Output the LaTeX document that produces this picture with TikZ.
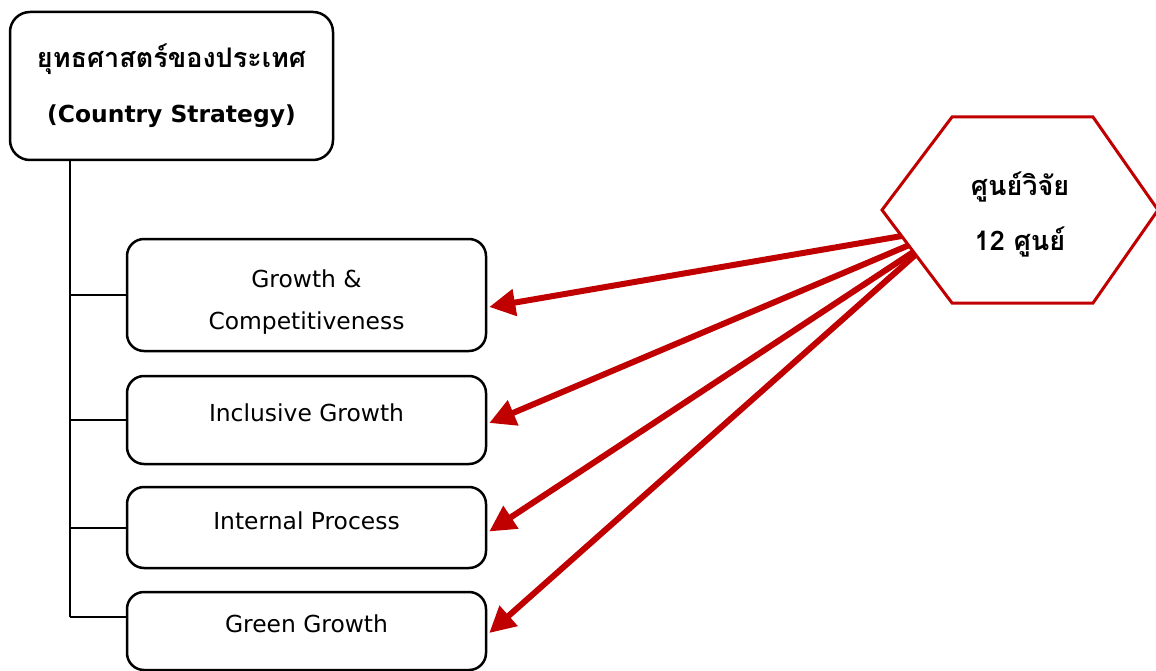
\documentclass[tikz,border=0pt]{standalone}
\usepackage{fontspec}
\setmainfont{DejaVu Sans}
\newfontfamily\thaifont[Script=Thai]{Loma}
\usetikzlibrary{positioning}
\usetikzlibrary{calc}
\usetikzlibrary{arrows.meta}
\definecolor{hexred}{HTML}{C00000}

\begin{document}
\begin{tikzpicture}[x=1pt,y=-1pt,
	cbox/.style={rectangle,rounded corners=20pt,draw=black,line width=2.5pt,minimum width=323pt,minimum height=148pt,align=center,font=\bfseries\fontsize{23.4}{55}\selectfont},
	sbox/.style={rectangle,rounded corners=17pt,draw=black,line width=2.5pt,minimum width=359pt,align=center,font=\fontsize{23.4}{42}\selectfont},
	onebox/.style={sbox,text height=17pt,text depth=14pt},
	stem/.style={draw=black,line width=2pt},
	redarrow/.style={draw=hexred,line width=6pt,-{Triangle[length=26pt,width=26pt]}},
	node distance = 24pt]
		\useasboundingbox (0,0) rectangle (1156,671);
		\node[cbox] (country) at (171.5,86) {{\thaifont\fontsize{27}{55}\selectfont ยุทธศาสตร์ของประเทศ}\\(Country Strategy)};
		\node[sbox,minimum height=112pt] (growth) at (306.5,295) {\rule{0pt}{31pt}Growth \&\\Competitiveness};
		\node[onebox,minimum height=88pt,below = 22.5pt of growth] (inclusive) {Inclusive Growth};
		\node[onebox,minimum height=81pt,below = 20.5pt of inclusive] (internal) {Internal Process};
		\node[onebox,minimum height=78pt,below = 21.5pt of internal] (green) {Green Growth};
		% tree on the left
		\coordinate (trunk) at ($(country.south)+(-101.5,0)$);
		\coordinate (leaf) at ($(green.west)+(0,-14)$);
		\draw[stem] (trunk) -- (trunk |- leaf);
		\draw[stem] (trunk |- growth.west) -- (growth.west);
		\draw[stem] (trunk |- inclusive.west) -- (inclusive.west);
		\draw[stem] (trunk |- internal.west) -- (internal.west);
		\draw[stem] (trunk |- leaf) -- (leaf);
		% research centres
		\coordinate (hl) at (882,210);
		\coordinate (htl) at (952,117);
		\coordinate (htr) at (1093,117);
		\coordinate (hr) at (1158,210);
		\coordinate (hbr) at (1093,303);
		\coordinate (hbl) at (952,303);
		\draw[hexred,line width=3pt] (hl) -- (htl) -- (htr) -- (hr) -- (hbr) -- (hbl) -- cycle;
		\node[font=\thaifont\bfseries\fontsize{27}{55}\selectfont,align=center] (centre) at (1020,214) {ศูนย์วิจัย\\12 ศูนย์};
		\coordinate (s1) at ($(hl)!0.28!(hbl)$);
		\coordinate (s2) at ($(hl)!0.38!(hbl)$);
		\coordinate (s3) at ($(hl)!0.45!(hbl)$);
		\coordinate (s4) at ($(hl)!0.48!(hbl)$);
		\draw[redarrow] (s1) -- ($(growth.east)+(2,12)$);
		\draw[redarrow] (s2) -- ($(inclusive.east)+(2,3)$);
		\draw[redarrow] (s3) -- ($(internal.east)+(2,4)$);
		\draw[redarrow] (s4) -- ($(green.east)+(2,2)$);
	\end{tikzpicture}
\end{document}
